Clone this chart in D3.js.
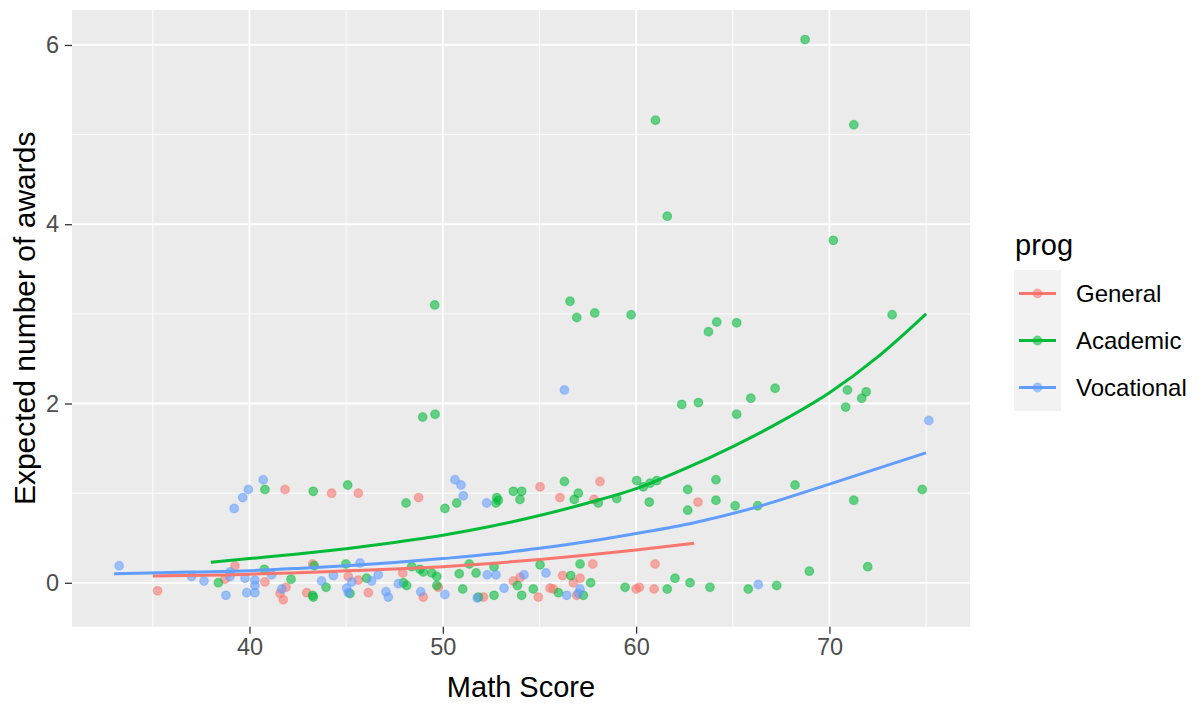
<!DOCTYPE html>
<html lang="en">
    <head>
        <meta charset="utf-8">
        <title>Expected awards by math score</title>
        <script type="text/javascript" src="https://cdnjs.cloudflare.com/ajax/libs/d3/7.8.5/d3.min.js"></script>
        <style>
            body { margin: 0; background: #fff; }
            text { font-family: "Liberation Sans", Arial, sans-serif; }
        </style>
    </head>
    <body>
        <script type="text/javascript">
// programmes and colours (ggplot default hues)
var progs = ["General", "Academic", "Vocational"];
var colors = ["#F8766D", "#00BA38", "#619CFF"];

var xTicks = [40, 50, 60, 70];
var yTicks = [0, 2, 4, 6];

var generalPts = [
  [35.25,-0.09],[39.25,0.19],[38.73,0.04],[41.84,1.04],[44.25,1.00],[45.63,1.00],
  [40.80,0.01],[41.58,-0.12],[41.75,-0.19],[41.89,-0.05],[42.96,-0.11],[43.27,0.21],
  [45.11,0.07],[45.63,0.03],[46.15,-0.11],[47.93,0.11],[49.77,-0.05],[48.99,-0.16],
  [52.10,-0.16],[53.65,0.02],[54.00,0.06],[54.94,-0.16],[55.55,-0.06],[48.75,0.95],
  [55.03,1.07],[56.06,0.95],[58.13,1.13],[57.82,0.93],[63.20,0.90],[55.72,-0.07],
  [56.20,0.08],[57.76,0.21],[57.10,0.05],[56.75,0.00],[56.93,-0.14],[60.00,-0.07],
  [60.17,-0.05],[60.93,-0.07],[60.98,0.21]
];
var academicPts = [
  [68.74,6.06],[61.00,5.16],[71.26,5.11],[61.61,4.09],[70.20,3.82],[49.58,3.10],
  [56.58,3.14],[56.93,2.96],[57.86,3.01],[59.74,2.99],[73.24,2.99],[63.74,2.80],
  [64.17,2.91],[65.20,2.90],[67.19,2.17],[65.93,2.06],[62.36,1.99],[63.22,2.01],
  [65.20,1.88],[48.96,1.85],[49.60,1.88],[70.93,2.15],[71.90,2.13],[71.67,2.06],
  [70.84,1.96],[68.22,1.09],[71.26,0.92],[74.80,1.04],[68.96,0.13],[71.98,0.18],
  [67.27,-0.03],
  [40.80,1.04],[43.30,1.02],[45.08,1.09],[48.10,0.89],[50.11,0.83],[50.72,0.89],
  [52.79,0.95],[52.87,0.92],[52.75,0.89],[53.65,1.02],[54.08,1.02],[53.99,0.93],
  [56.29,1.13],[57.01,1.00],[56.80,0.93],[58.04,0.89],[59.00,0.94],[60.03,1.14],
  [60.37,1.07],[60.72,1.11],[61.07,1.14],[60.68,0.90],[62.67,1.04],[64.13,1.15],
  [62.67,0.81],[64.13,0.92],[65.12,0.86],[66.29,0.86],
  [38.39,0.00],[40.77,0.15],[42.15,0.04],[43.27,-0.14],[43.30,-0.16],[43.35,0.19],
  [43.96,-0.05],[44.99,0.21],[45.20,-0.12],[46.06,0.05],[48.13,-0.03],[47.96,0.00],
  [48.39,0.18],[48.82,0.15],[48.99,0.12],[49.43,0.11],[49.69,0.07],[49.69,-0.03],
  [50.85,0.10],[51.03,-0.07],[51.37,0.21],[51.72,0.11],[52.65,0.18],[51.84,-0.16],
  [52.65,-0.14],[53.86,-0.03],[54.08,-0.14],[54.68,-0.07],[55.03,0.20],[57.10,0.21],
  [56.62,0.08],[57.65,0.00],[55.98,-0.11],[57.27,-0.14],[59.43,-0.05],[61.61,-0.07],
  [62.01,0.05],[62.79,0.00],[63.82,-0.05],[65.80,-0.07]
];
var vocationalPts = [
  [33.26,0.19],[37.01,0.07],[37.65,0.02],[38.78,-0.14],[38.99,0.12],[38.99,0.07],
  [39.77,0.05],[39.86,-0.11],[40.28,0.03],[40.28,-0.03],[40.28,-0.11],[41.15,0.09],
  [41.67,-0.07],[43.73,0.02],[44.34,0.08],[45.03,-0.06],[45.11,-0.11],[45.29,0.01],
  [45.72,0.22],[46.32,0.02],[46.66,0.09],[47.06,-0.10],[47.18,-0.16],[47.70,-0.01],
  [48.86,-0.10],[50.11,-0.13],[52.30,0.09],[52.75,0.09],[51.78,-0.17],[53.17,-0.06],
  [54.20,0.09],[55.34,0.11],[56.41,-0.14],[57.10,-0.07],[57.01,-0.12],[66.32,-0.02],
  [39.21,0.83],[39.65,0.95],[39.94,1.04],[40.71,1.15],[50.63,1.15],[50.94,1.09],
  [51.06,0.97],[52.27,0.89],[56.29,2.15],[75.14,1.81]
];

// fitted (predicted) values
var generalFitMath = [35, 38.7, 40, 42.5, 45, 47.5, 50, 52.5, 55, 57.5, 60, 63];
var generalFitAwards = [0.075, 0.088, 0.095, 0.112, 0.133, 0.155, 0.18, 0.215, 0.26, 0.31, 0.365, 0.44];
var academicFitMath = [38, 40, 42.5, 45, 47.5, 50, 52.5, 55, 57.5, 60, 62.5, 65, 67.5, 70, 72.5, 75];
var academicFitAwards = [0.23, 0.27, 0.32, 0.38, 0.45, 0.53, 0.63, 0.75, 0.89, 1.05, 1.27, 1.52, 1.80, 2.12, 2.52, 3.0];
var vocationalFitMath = [33, 37, 40, 42.5, 45, 47.5, 50, 52.5, 55, 57.5, 60, 63, 66, 70, 75];
var vocationalFitAwards = [0.10, 0.12, 0.135, 0.16, 0.19, 0.225, 0.27, 0.32, 0.385, 0.46, 0.55, 0.67, 0.83, 1.1, 1.45];

var pts = [generalPts, academicPts, vocationalPts];
var fitMath = [generalFitMath, academicFitMath, vocationalFitMath];
var fitAwards = [generalFitAwards, academicFitAwards, vocationalFitAwards];

var w = 1203;
var h = 709;
// panel edges (don't call these top/left, window.top is read-only)
var pLeft = 72, pRight = 970, pTop = 10, pBottom = 626.7;

var svg = d3.select("body")
  .append("svg")
  .attr("width", w)
  .attr("height", h);

var x = d3.scaleLinear().domain([30.82, 77.27]).range([pLeft, pRight]);
var y = d3.scaleLinear().domain([-0.49, 6.39]).range([pBottom, pTop]);

// panel + grid
svg.append("rect")
  .attr("x", pLeft).attr("y", pTop)
  .attr("width", pRight - pLeft).attr("height", pBottom - pTop)
  .attr("fill", "#EBEBEB");

var xMinor = [35, 45, 55, 65, 75];
var yMinor = [1, 3, 5];

svg.selectAll(".xminor").data(xMinor).enter().append("line")
  .attr("x1", function(d) { return x(d); }).attr("x2", function(d) { return x(d); })
  .attr("y1", pTop).attr("y2", pBottom)
  .attr("stroke", "#fff").attr("stroke-width", 0.9);
svg.selectAll(".yminor").data(yMinor).enter().append("line")
  .attr("y1", function(d) { return y(d); }).attr("y2", function(d) { return y(d); })
  .attr("x1", pLeft).attr("x2", pRight)
  .attr("stroke", "#fff").attr("stroke-width", 0.9);
svg.selectAll(".xmajor").data(xTicks).enter().append("line")
  .attr("x1", function(d) { return x(d); }).attr("x2", function(d) { return x(d); })
  .attr("y1", pTop).attr("y2", pBottom)
  .attr("stroke", "#fff").attr("stroke-width", 1.8);
svg.selectAll(".ymajor").data(yTicks).enter().append("line")
  .attr("y1", function(d) { return y(d); }).attr("y2", function(d) { return y(d); })
  .attr("x1", pLeft).attr("x2", pRight)
  .attr("stroke", "#fff").attr("stroke-width", 1.8);

// points
pts.forEach(function(set, i) {
  svg.append("g").selectAll("circle")
    .data(set)
    .enter()
    .append("circle")
    .attr("cx", function(d) { return x(d[0]); })
    .attr("cy", function(d) { return y(d[1]); })
    .attr("r", 4.3)
    .attr("fill", colors[i])
    .attr("fill-opacity", 0.58)
    .attr("stroke", colors[i])
    .attr("stroke-opacity", 0.45)
    .attr("stroke-width", 1.3);
});

// fitted lines
var line = d3.line()
  .x(function(d) { return x(d[0]); })
  .y(function(d) { return y(d[1]); })
  .curve(d3.curveMonotoneX);

fitMath.forEach(function(xs, i) {
  svg.append("path")
    .datum(xs.map(function(v, j) { return [v, fitAwards[i][j]]; }))
    .attr("d", line)
    .attr("fill", "none")
    .attr("stroke", colors[i])
    .attr("stroke-width", 3);
});

// axes
var xAxis = svg.append("g")
  .attr("transform", "translate(0," + pBottom + ")")
  .call(d3.axisBottom(x).tickValues(xTicks).tickSize(7).tickPadding(5));
var yAxis = svg.append("g")
  .attr("transform", "translate(" + pLeft + ",0)")
  .call(d3.axisLeft(y).tickValues(yTicks).tickFormat(d3.format("d")).tickSize(7).tickPadding(6));

[xAxis, yAxis].forEach(function(a) {
  a.select(".domain").remove();
  a.selectAll(".tick line").attr("stroke", "#333333").attr("stroke-width", 1.3);
  a.selectAll(".tick text")
    .attr("fill", "#4D4D4D")
    .style("font-size", "23.5px")
    .style("font-family", "'Liberation Sans', Arial, sans-serif");
});

svg.append("text")
  .attr("x", (pLeft + pRight) / 2).attr("y", 697)
  .attr("text-anchor", "middle")
  .style("font-size", "29px")
  .text("Math Score");

svg.append("text")
  .attr("transform", "translate(35," + ((pTop + pBottom) / 2) + ") rotate(-90)")
  .attr("text-anchor", "middle")
  .style("font-size", "30px")
  .text("Expected number of awards");

// legend
var lg = svg.append("g");
lg.append("text")
  .attr("x", 1015).attr("y", 255)
  .style("font-size", "29px")
  .text("prog");

var keys = lg.selectAll(".key").data(progs).enter().append("g")
  .attr("transform", function(d, i) { return "translate(1014," + (270 + i * 47) + ")"; });

keys.append("rect")
  .attr("width", 47).attr("height", 47)
  .attr("fill", "#F2F2F2");
keys.append("line")
  .attr("x1", 5).attr("x2", 42)
  .attr("y1", 23.5).attr("y2", 23.5)
  .attr("stroke", function(d, i) { return colors[i]; })
  .attr("stroke-width", 3);
keys.append("circle")
  .attr("cx", 23.5).attr("cy", 23.5).attr("r", 4.3)
  .attr("fill", function(d, i) { return colors[i]; })
  .attr("fill-opacity", 0.58)
  .attr("stroke", function(d, i) { return colors[i]; })
  .attr("stroke-opacity", 0.45)
  .attr("stroke-width", 1.3);
keys.append("text")
  .attr("x", 62).attr("y", 23.5)
  .attr("dy", "0.36em")
  .style("font-size", "24px")
  .text(function(d) { return d; });
        </script>
    </body>
</html>
